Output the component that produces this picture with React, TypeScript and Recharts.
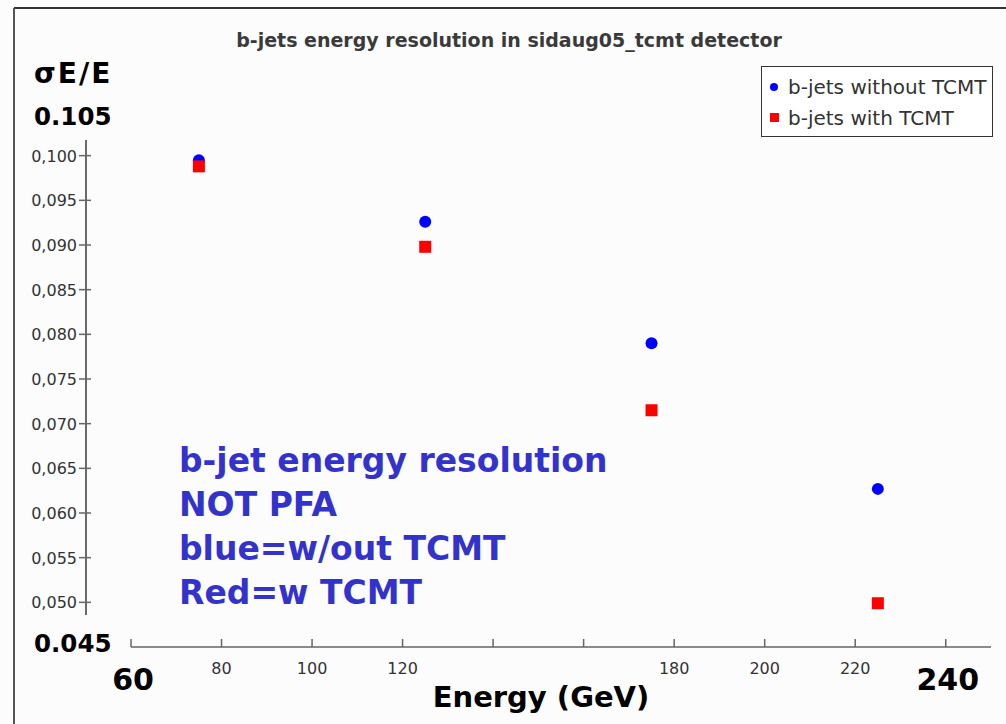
import React from 'react';
import { ScatterChart, Scatter, XAxis, YAxis, Legend } from 'recharts';

// beam energies (GeV) and sigma(E)/E
const energies = [75, 125, 175, 225];
const withoutTcmt = [0.0995, 0.0926, 0.079, 0.0627];
const withTcmt = [0.0988, 0.0898, 0.0715, 0.0499];

const xTicks = [60, 80, 100, 120, 140, 160, 180, 200, 220, 240];
const hiddenXLabels = [140, 160];
const yTicks = [0.045, 0.05, 0.055, 0.06, 0.065, 0.07, 0.075, 0.08, 0.085, 0.09, 0.095, 0.1, 0.105];

const seriesNames = ['b-jets without TCMT', 'b-jets with TCMT'];
const noteLines = ['b-jet energy resolution', 'NOT PFA', 'blue=w/out TCMT', 'Red=w TCMT'];

const FONT = 'DejaVu Sans, Verdana, sans-serif';
const AXIS_SHIFT = 45;

const blueData = energies.map((e, i) => ({ energy: e, value: withoutTcmt[i] }));
const redData = energies.map((e, i) => ({ energy: e, value: withTcmt[i] }));

const Dot = (props: any) => <circle cx={props.cx} cy={props.cy} r={6} fill="#0000ff" />;
const Square = (props: any) => (
  <rect x={props.cx - 6} y={props.cy - 6} width={12} height={12} fill="#ff0000" />
);

const YTick = (props: any) => {
  const { x, y, payload } = props;
  const v = payload.value;
  if (v === yTicks[0] || v === yTicks[yTicks.length - 1]) {
    return (
      <text x={34} y={y + (v === yTicks[0] ? 5 : 14)} fontFamily={FONT} fontWeight="bold" fontSize={24.5} fill="#000">
        {v.toFixed(3)}
      </text>
    );
  }
  const ax = x - AXIS_SHIFT;
  return (
    <g>
      <line x1={ax - 7} x2={ax + 5} y1={y} y2={y} stroke="#666" strokeWidth={1.5} />
      <text x={ax - 9} y={y + 6} textAnchor="end" fontFamily={FONT} fontSize={16} fill="#333">
        {v.toFixed(3).replace('.', ',')}
      </text>
    </g>
  );
};

const XTick = (props: any) => {
  const { x, y, payload } = props;
  const v = payload.value;
  const isEnd = v === xTicks[0] || v === xTicks[xTicks.length - 1];
  return (
    <g>
      <line x1={x} x2={x} y1={y - 8} y2={y} stroke="#666" strokeWidth={1.5} />
      {isEnd ? (
        <text x={x + 2} y={y + 43} textAnchor="middle" fontFamily={FONT} fontWeight="bold" fontSize={30} fill="#000">
          {v}
        </text>
      ) : hiddenXLabels.includes(v) ? null : (
        <text x={x} y={y + 27} textAnchor="middle" fontFamily={FONT} fontSize={16} fill="#333">
          {v}
        </text>
      )}
    </g>
  );
};

const renderLegend = (props: any) => {
  const items = [...(props.payload || [])].sort(
    (a: any, b: any) => seriesNames.indexOf(a.value) - seriesNames.indexOf(b.value)
  );
  return (
    <div
      style={{
        width: 232,
        height: 71,
        border: '1.5px solid #333',
        background: '#fff',
        fontFamily: FONT,
        fontSize: 20,
        color: '#333',
        boxSizing: 'border-box',
        padding: '4px 0 0 8px',
      }}
    >
      {items.map((p: any) => (
        <div key={p.value} style={{ display: 'flex', alignItems: 'center', height: 31 }}>
          {p.value === seriesNames[0] ? (
            <span style={{ width: 8, height: 8, borderRadius: 4, background: '#0000ff', marginRight: 10 }} />
          ) : (
            <span style={{ width: 9, height: 9, background: '#ff0000', marginRight: 9 }} />
          )}
          <span>{p.value}</span>
        </div>
      ))}
    </div>
  );
};

export default function App() {
  return (
    <div style={{ position: 'absolute', left: 0, top: 0, width: 1006, height: 724, background: '#fcfcfc', overflow: 'hidden' }}>
      <ScatterChart width={1006} height={724} margin={{ top: 111, right: 15, bottom: 37, left: 0 }}>
        <XAxis
          type="number"
          dataKey="energy"
          domain={[60, 250]}
          ticks={xTicks}
          height={40}
          tickSize={0}
          tickMargin={0}
          tickLine={false}
          axisLine={{ stroke: '#666', strokeWidth: 1.5 }}
          tick={<XTick />}
          interval={0}
        />
        <YAxis
          type="number"
          dataKey="value"
          domain={[0.045, 0.105]}
          ticks={yTicks}
          width={131}
          tickSize={0}
          tickMargin={0}
          tickLine={false}
          axisLine={false}
          tick={<YTick />}
          interval={0}
        />
        <Legend
          content={renderLegend}
          layout="vertical"
          align="center"
          verticalAlign="middle"
          wrapperStyle={{ top: 66, left: 761, width: 232 }}
        />
        <Scatter name={seriesNames[0]} data={blueData} fill="#0000ff" shape={<Dot />} isAnimationActive={false} />
        <Scatter name={seriesNames[1]} data={redData} fill="#ff0000" shape={<Square />} isAnimationActive={false} />
      </ScatterChart>

      {/* y axis line sits left of the plot, as in the original */}
      <div style={{ position: 'absolute', left: 85, top: 140, width: 2, height: 475, background: '#6a6a6a' }} />

      <svg width={1006} height={724} style={{ position: 'absolute', left: 0, top: 0, pointerEvents: 'none' }}>
        <line x1={14} x2={1006} y1={8} y2={8} stroke="#333" strokeWidth={2} />
        <line x1={14} x2={14} y1={8} y2={724} stroke="#555" strokeWidth={2} />
        <text x={509} y={47} textAnchor="middle" fontFamily={FONT} fontWeight="bold" fontSize={19} fill="#3a3a3a">
          b-jets energy resolution in sidaug05_tcmt detector
        </text>
        <text x={34} y={83} fontFamily={FONT} fontWeight="bold" fontSize={28} letterSpacing={2} fill="#000">
          σE/E
        </text>
        <text x={541} y={707} textAnchor="middle" fontFamily={FONT} fontWeight="bold" fontSize={29} fill="#000">
          Energy (GeV)
        </text>
        {noteLines.map((t, i) => (
          <text key={t} x={179} y={472 + i * 44} fontFamily={FONT} fontWeight="bold" fontSize={33} fill="#3333cc">
            {t}
          </text>
        ))}
      </svg>
    </div>
  );
}
